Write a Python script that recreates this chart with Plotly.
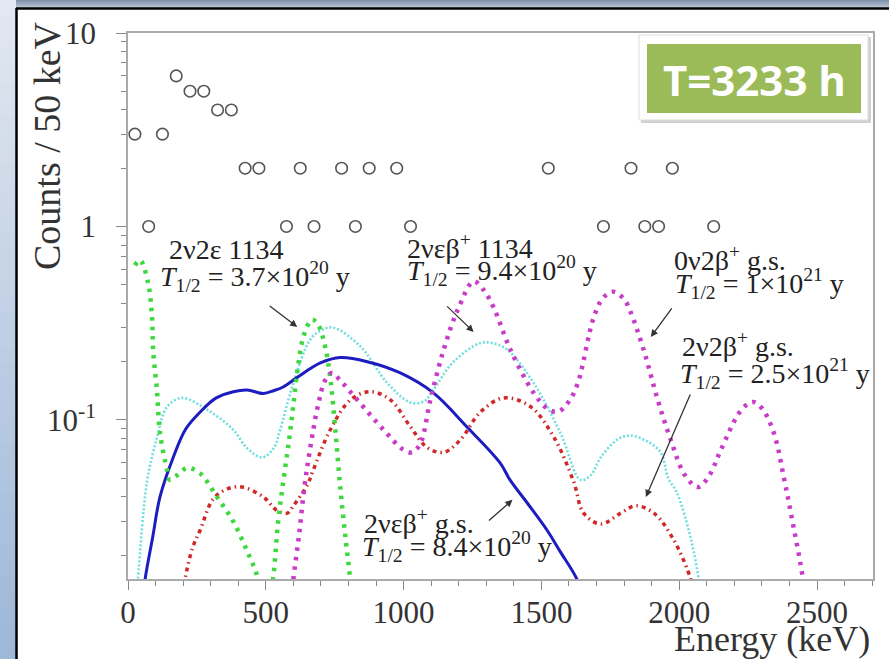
import plotly.graph_objects as go

W, H = 889, 659
ML, MR, MT, MB = 128, 16, 33, 80
PW, PH = W - ML - MR, H - MT - MB


def px(x):
    return (x - ML) / PW


def py(y):
    return (H - MB - y) / PH


# ---------------- data ----------------
obs_energy = [25, 75, 125, 175, 225, 275, 325, 375, 425, 475, 575, 625, 675, 775,
              825, 875, 975, 1025, 1525, 1725, 1825, 1875, 1925, 1975, 2125]
obs_counts = [3, 1, 3, 6, 5, 5, 4, 4, 2, 2, 1, 2, 1, 2,
              1, 2, 2, 1, 2, 1, 2, 1, 1, 2, 1]

green_e = [25, 44, 73, 87, 91, 105, 116, 142, 152, 180, 214, 261, 323, 381, 432, 472, 497,
           526, 545, 565, 585, 600, 617, 640, 668, 690, 715, 735, 752, 770, 790, 806, 815]
green_v = [0.63, 0.67, 0.51, 0.34, 0.23, 0.143, 0.086, 0.055, 0.049, 0.052, 0.0565, 0.053, 0.040,
           0.030, 0.021, 0.015, 0.008,
           0.015, 0.030, 0.050, 0.080, 0.12, 0.19, 0.28, 0.33, 0.31, 0.24, 0.16, 0.09, 0.045,
           0.024, 0.015, 0.010]

cyan_e = [30, 36, 69, 105, 142, 196, 287, 382, 430, 487, 530, 552, 600, 661, 700, 745, 843, 941,
          1025, 1075, 1108, 1181, 1279, 1320, 1377, 1472, 1570, 1642, 1680, 1715, 1780, 1824,
          1880, 1933, 1960, 1992, 2040, 2071, 2080]
cyan_v = [0.012, 0.015, 0.048, 0.081, 0.117, 0.13, 0.113, 0.089, 0.072, 0.064, 0.072, 0.089,
          0.155, 0.26, 0.29, 0.30, 0.24, 0.155, 0.123, 0.125, 0.143, 0.20, 0.25, 0.25, 0.23,
          0.155, 0.085, 0.049, 0.052, 0.064, 0.080, 0.083, 0.078, 0.068, 0.050, 0.042, 0.025,
          0.015, 0.012]

blue_e = [55, 62, 90, 116, 164, 210, 262, 320, 382, 432, 491, 530, 563, 614, 698, 770, 868, 988,
          1108, 1230, 1350, 1386, 1450, 1520, 1567, 1629, 1640]
blue_v = [0.012, 0.015, 0.025, 0.040, 0.064, 0.090, 0.110, 0.130, 0.140, 0.143, 0.137, 0.142,
          0.148, 0.166, 0.197, 0.210, 0.200, 0.175, 0.138, 0.092, 0.060, 0.049, 0.037, 0.027,
          0.021, 0.015, 0.013]

magenta_e = [595, 600, 620, 640, 660, 690, 715, 740, 770, 832, 927, 1000, 1030, 1060, 1097, 1145,
             1196, 1254, 1290, 1327, 1388, 1472, 1520, 1559, 1600, 1632, 1690, 1725, 1762, 1800,
             1824, 1871, 1922, 1969, 2020, 2068, 2110, 2151, 2224, 2267, 2300, 2344, 2380, 2405,
             2449, 2455]
magenta_v = [0.012, 0.015, 0.025, 0.045, 0.070, 0.12, 0.16, 0.175, 0.16, 0.127, 0.089, 0.070,
             0.068, 0.075, 0.127, 0.23, 0.37, 0.52, 0.47, 0.38, 0.23, 0.138, 0.115, 0.11, 0.125,
             0.155, 0.34, 0.43, 0.46, 0.42, 0.36, 0.23, 0.127, 0.079, 0.052, 0.045, 0.052, 0.070,
             0.112, 0.124, 0.115, 0.085, 0.050, 0.033, 0.015, 0.012]

red_e = [200, 207, 235, 262, 309, 360, 414, 491, 541, 578, 600, 650, 672, 734, 807, 879, 952,
         1025, 1086, 1145, 1206, 1279, 1363, 1461, 1544, 1617, 1653, 1715, 1788, 1842, 1908,
         1980, 2042, 2050]
red_v = [0.012, 0.015, 0.022, 0.027, 0.039, 0.044, 0.045, 0.040, 0.034, 0.033, 0.036, 0.046,
         0.055, 0.089, 0.127, 0.140, 0.127, 0.092, 0.072, 0.068, 0.079, 0.110, 0.130, 0.117,
         0.082, 0.048, 0.033, 0.029, 0.033, 0.036, 0.033, 0.024, 0.015, 0.013]

x_ticks = [0, 500, 1000, 1500, 2000, 2500]
y_ticks = [0.1, 1, 10]
y_ticktext = ["10<sup>-1</sup>", "1", "10"]
y_minor = [v * m for v in (0.01, 0.1, 1) for m in range(2, 10)]

labels = [
    # (energy, log10 value, text)
    (141, -0.121, "2ν2ε 1134"),
    (109, -0.261, "<i>T</i><sub>1/2</sub> = 3.7×10<sup>20</sup> y"),
    (1005, -0.101, "2νεβ<sup>+</sup> 1134"),
    (1005, -0.230, "<i>T</i><sub>1/2</sub> = 9.4×10<sup>20</sup> y"),
    (1974, -0.163, "0ν2β<sup>+</sup> g.s."),
    (1978, -0.297, "<i>T</i><sub>1/2</sub> = 1×10<sup>21</sup> y"),
    (2003, -0.612, "2ν2β<sup>+</sup> g.s."),
    (1996, -0.762, "<i>T</i><sub>1/2</sub> = 2.5×10<sup>21</sup> y"),
    (849, -1.527, "2νεβ<sup>+</sup> g.s."),
    (842, -1.656, "<i>T</i><sub>1/2</sub> = 8.4×10<sup>20</sup> y"),
]
# arrows: head (energy, log10 value), tail offset in pixels
arrows = [
    (614, -0.519, -29, -22),
    (1254, -0.545, -28, -27),
    (1897, -0.571, 22, -30),
    (1879, -1.398, 45, -104),
    (1395, -1.413, -25, 22),
]

fig = go.Figure()

fig.add_trace(go.Scatter(x=cyan_e, y=cyan_v, mode="lines", line_shape="spline",
                         line=dict(color="#6fdede", width=2.6, dash="2px,2px"), showlegend=False))
fig.add_trace(go.Scatter(x=red_e, y=red_v, mode="lines", line_shape="spline",
                         line=dict(color="#d02828", width=3.5, dash="4px,4px,1.5px,4px"), showlegend=False))
fig.add_trace(go.Scatter(x=blue_e, y=blue_v, mode="lines", line_shape="spline",
                         line=dict(color="#1c1cc0", width=3), showlegend=False))
fig.add_trace(go.Scatter(x=green_e, y=green_v, mode="lines", line_shape="spline",
                         line=dict(color="#3ed83e", width=4.5, dash="3.5px,6px"), showlegend=False))
fig.add_trace(go.Scatter(x=magenta_e, y=magenta_v, mode="lines", line_shape="spline",
                         line=dict(color="#c83cc8", width=4.5, dash="3.5px,6px"), showlegend=False))
fig.add_trace(go.Scatter(x=obs_energy, y=obs_counts, mode="markers",
                         marker=dict(symbol="circle-open", size=11.5, color="#555555",
                                     line=dict(width=1.6, color="#555555")),
                         showlegend=False))

shapes = []
# left gradient strip
N = 40
c0, c1 = (226, 232, 241), (158, 184, 216)
for i in range(N):
    t = i / (N - 1)
    c = tuple(int(c0[k] + (c1[k] - c0[k]) * t) for k in range(3))
    shapes.append(dict(type="rect", xref="paper", yref="paper", layer="below",
                       x0=px(0), x1=px(16), y0=py(H * (i + 1) / N + 1), y1=py(H * i / N),
                       fillcolor="rgb(%d,%d,%d)" % c, line=dict(width=0)))
# top gradient strip
t0, t1 = (130, 147, 172), (190, 200, 214)
for i in range(8):
    t = i / 7
    c = tuple(int(t0[k] + (t1[k] - t0[k]) * t) for k in range(3))
    shapes.append(dict(type="rect", xref="paper", yref="paper", layer="below",
                       x0=px(16), x1=px(W), y0=py(i + 1), y1=py(i),
                       fillcolor="rgb(%d,%d,%d)" % c, line=dict(width=0)))
# white panel with black border
shapes.append(dict(type="rect", xref="paper", yref="paper", layer="below",
                   x0=px(17), x1=px(W + 2), y0=py(H + 2), y1=py(9),
                   fillcolor="white", line=dict(width=0)))
shapes.append(dict(type="line", xref="paper", yref="paper", layer="below",
                   x0=px(16.5), x1=px(16.5), y0=py(H), y1=py(8),
                   line=dict(color="black", width=2.5)))
shapes.append(dict(type="line", xref="paper", yref="paper", layer="below",
                   x0=px(16), x1=px(W), y0=py(8.5), y1=py(8.5),
                   line=dict(color="black", width=2.5)))
# time box
shapes.append(dict(type="rect", xref="paper", yref="paper", layer="above",
                   x0=px(641), x1=px(871), y0=py(123), y1=py(37),
                   fillcolor="rgba(120,120,120,0.35)", line=dict(width=0)))
shapes.append(dict(type="rect", xref="paper", yref="paper", layer="above",
                   x0=px(639), x1=px(868), y0=py(120), y1=py(35),
                   fillcolor="white", line=dict(color="#dddddd", width=1)))
shapes.append(dict(type="rect", xref="paper", yref="paper", layer="above",
                   x0=px(647), x1=px(861), y0=py(113), y1=py(44),
                   fillcolor="#9bbb59", line=dict(width=0)))

annotations = []
for e, lv, txt in labels:
    annotations.append(dict(x=e, y=lv, xref="x", yref="y", text=txt, showarrow=False,
                            xanchor="left", yanchor="middle",
                            font=dict(family="Liberation Serif", size=28, color="#222222")))
for e, lv, ax, ay in arrows:
    annotations.append(dict(x=e, y=lv, xref="x", yref="y", text="", showarrow=True,
                            ax=ax, ay=ay, arrowhead=2, arrowsize=1.1, arrowwidth=1.3,
                            arrowcolor="#333333"))
annotations.append(dict(x=px(754), y=py(79), xref="paper", yref="paper", text="<b>T=3233 h</b>",
                        showarrow=False, xanchor="center", yanchor="middle",
                        font=dict(family="Open Sans", size=42, color="white")))
annotations.append(dict(x=px(872), y=py(639), xref="paper", yref="paper", text="Energy (keV)",
                        showarrow=False, xanchor="right", yanchor="middle",
                        font=dict(family="Liberation Serif", size=36, color="#333333")))
annotations.append(dict(x=px(47), y=py(146), xref="paper", yref="paper", text="Counts / 50 keV",
                        showarrow=False, xanchor="center", yanchor="middle", textangle=-90,
                        font=dict(family="Liberation Serif", size=38, color="#333333")))

axis_font = dict(family="Liberation Serif", size=31, color="#333333")
fig.update_layout(
    width=W, height=H,
    margin=dict(l=ML, r=MR, t=MT, b=MB, pad=0),
    paper_bgcolor="#b9cbe2",
    plot_bgcolor="rgba(0,0,0,0)",
    shapes=shapes,
    annotations=annotations,
    showlegend=False,
    xaxis=dict(range=[0, 2703], tickvals=x_ticks, ticks="outside", ticklen=9, tickwidth=1.2,
               tickcolor="#888888", showline=True, linecolor="#aaaaaa", linewidth=1.5, mirror=True,
               showgrid=False, zeroline=False, tickfont=axis_font, ticklabelstandoff=-4,
               minor=dict(dtick=100, ticks="outside", ticklen=5, tickcolor="#888888", showgrid=False)),
    yaxis=dict(type="log", range=[-1.822, 1.0], tickvals=y_ticks, ticktext=y_ticktext,
               ticks="outside", ticklen=10, tickwidth=1.2, tickcolor="#888888",
               showline=True, linecolor="#aaaaaa", linewidth=1.5, mirror=True,
               showgrid=False, zeroline=False, tickfont=axis_font, ticklabelstandoff=14,
               minor=dict(tickvals=y_minor, ticks="outside", ticklen=5, tickcolor="#888888",
                          showgrid=False)),
)

fig.write_html("out.html", config={"displayModeBar": False},
               post_script="document.body.style.margin='0';")
